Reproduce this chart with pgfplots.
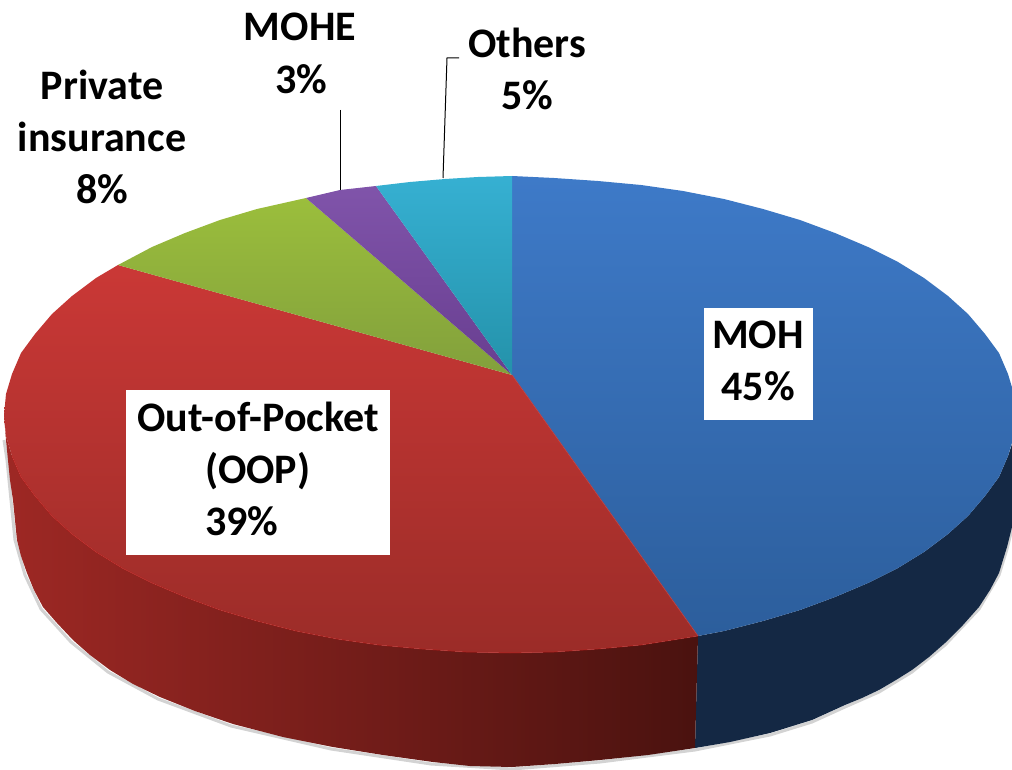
\documentclass[border=0pt]{standalone}
\usepackage{pgfplots}
\pgfplotsset{compat=1.18}
\usepackage{fontspec}
\setmainfont{Carlito}

% top face colours, light to dark
\definecolor{bluetop}{RGB}{62,122,200}
\definecolor{bluebot}{RGB}{44,94,156}
\definecolor{redtop}{RGB}{202,56,54}
\definecolor{redbot}{RGB}{155,44,40}
\definecolor{greentop}{RGB}{155,190,60}
\definecolor{greenbot}{RGB}{130,160,60}
\definecolor{purptop}{RGB}{128,84,170}
\definecolor{purpbot}{RGB}{104,62,144}
\definecolor{cyantop}{RGB}{54,176,210}
\definecolor{cyanbot}{RGB}{36,146,170}
% sides
\definecolor{redsideL}{RGB}{158,40,36}
\definecolor{redsideM}{RGB}{118,30,28}
\definecolor{redsideR}{RGB}{74,18,15}
\definecolor{blueside}{RGB}{20,40,68}

\begin{document}
\begin{tikzpicture}
% hidden axes do not reserve their box, so keep the full page
\path (0,0) rectangle (1012pt,770pt);
\begin{axis}[
  hide axis, scale only axis,
  width=1012pt, height=770pt,
  xmin=0, xmax=1012, ymin=0, ymax=770,
  y dir=reverse,
]
% soft shadow under the rim
\addplot[draw=gray, line width=3pt, opacity=0.35] coordinates {
  (4,440)(7,460)(11,500)(15,540)(25,575)(41,609)(71,642)(108,672)(158,699)(231,726)(331,749)
  (431,764)(512,769)(600,762)(695,750)(770,735)(812,722)(845,707)(879,692)(912,672)(945,645)(979,609)(999,575)(1007,549)(1012,529)
};

% side of the blue slice
\addplot[draw=none, fill=blueside] coordinates {
  (698,636)(724,631)(763,621)(800,610)(835,597)(868,583)(898,568)(924,552)(948,534)(968,516)(985,496)(999,477)(1008,456)(1012,444)
  (1012,527)(1007,547)(999,573)(990,590)(979,607)(963,625)(945,643)(929,657)(912,670)(896,680)(879,690)(862,698)(845,705)(812,720)(770,733)(730,742)(695,748)
} -- cycle;

% side of the red slice
\addplot[draw=none, left color=redsideL, middle color=redsideM, right color=redsideR] coordinates {
  (4,415)(6,436)(12,456)(21,477)(35,496)(52,516)(72,534)(96,552)(122,568)(152,583)(185,597)(220,610)(257,621)(296,631)(337,639)(379,645)(422,649)(466,652)(510,653)(554,652)(598,649)(641,645)(698,636)
  (695,748)(648,755)(600,760)(555,764)(512,767)(470,766)(433,762)(383,755)(333,747)(283,737)(233,724)(195,711)(160,697)(133,684)(110,670)(90,655)(73,640)(57,623)(43,607)(34,590)(27,573)(21,556)(17,540)(15,520)(13,500)(10,480)(8,460)(6,440)
} -- cycle;

% top face, one polygon per slice
\addplot[draw=none, top color=bluetop, bottom color=bluebot] coordinates {
  (512,375)(512,176)(554,178)(598,181)(641,185)(683,191)(724,199)(763,209)(800,220)(835,233)(868,247)(898,262)(924,278)(948,296)(968,314)(985,334)(999,353)(1008,374)(1014,394)(1016,415)
  (1014,436)(1008,456)(999,477)(985,496)(968,516)(948,534)(924,552)(898,568)(868,583)(835,597)(800,610)(763,621)(724,631)(698,636)
} -- cycle;
\addplot[draw=none, top color=redtop, bottom color=redbot] coordinates {
  (512,375)(698,636)(641,645)(598,649)(554,652)(510,653)(466,652)(422,649)(379,645)(337,639)(296,631)(257,621)(220,610)(185,597)(152,583)(122,568)(96,552)(72,534)(52,516)(35,496)(21,477)(12,456)(6,436)
  (4,415)(6,394)(12,374)(21,353)(35,334)(52,314)(72,296)(96,278)(118,265)
} -- cycle;
\addplot[draw=none, top color=greentop, bottom color=greenbot] coordinates {
  (512,375)(118,265)(152,247)(185,233)(220,220)(257,209)(306,198)
} -- cycle;
\addplot[draw=none, top color=purptop, bottom color=purpbot] coordinates {
  (512,375)(306,198)(323,194)(340,190)(358,188)(376,186)
} -- cycle;
\addplot[draw=none, top color=cyantop, bottom color=cyanbot] coordinates {
  (512,375)(376,186)(410,182)(445,179)(478,177)(512,176)
} -- cycle;

% rim highlights
\addplot[draw=red!45!redbot, line width=1pt, opacity=0.4] coordinates {
  (12,456)(21,477)(35,496)(52,516)(72,534)(96,552)(122,568)(152,583)(185,597)(220,610)(257,621)(296,631)(337,639)(379,645)(422,649)(466,652)(510,653)(554,652)(598,649)(641,645)(698,636)
};
\addplot[draw=redtop, line width=1pt, opacity=0.6] coordinates {(512,375)(698,636)};

% leader lines
\addplot[black, line width=1pt] coordinates {(340,110)(340,190)};
\addplot[black, line width=1pt] coordinates {(459,58)(447,58)(443,178)};

% white boxes behind the two inner labels
\addplot[draw=none, fill=white] coordinates {(704,308)(813,308)(813,420)(704,420)} -- cycle;
\addplot[draw=none, fill=white] coordinates {(126,390)(390,390)(390,555)(126,555)} -- cycle;

\begin{scope}[every node/.style={anchor=base, inner sep=0pt, font=\fontsize{42}{42}\selectfont\bfseries}]
\node at (axis cs:300,41) {MOHE};
\node at (axis cs:301,94) {3\%};
\node at (axis cs:527,58) {Others};
\node at (axis cs:527,110) {5\%};
\node at (axis cs:102,100) {Private};
\node at (axis cs:102,152) {insurance};
\node at (axis cs:102,204) {8\%};
\node at (axis cs:758,348) {MOH};
\node at (axis cs:758,400) {45\%};
\node at (axis cs:258,431) {Out-of-Pocket};
\node at (axis cs:258,483) {(OOP)};
\node at (axis cs:242,535) {39\%};
\end{scope}
\end{axis}
\end{tikzpicture}
\end{document}
